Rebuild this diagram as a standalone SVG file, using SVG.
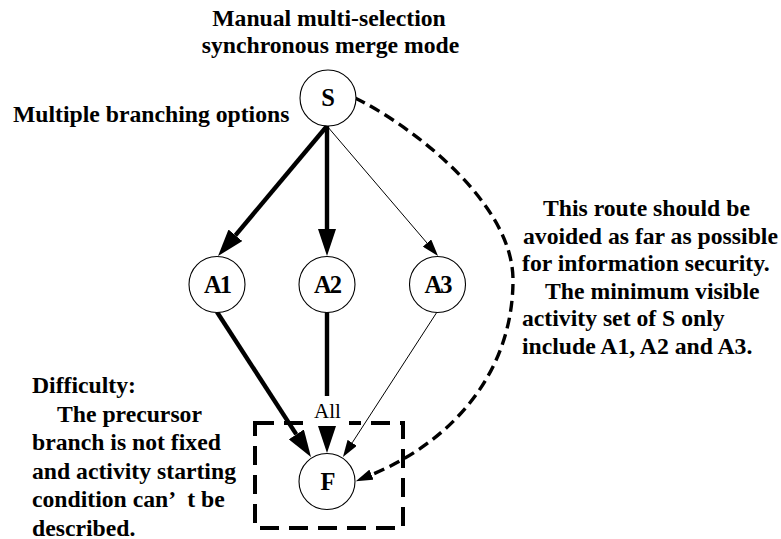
<svg xmlns="http://www.w3.org/2000/svg" width="781" height="539" viewBox="0 0 781 539">
<defs>
<style>
.t{font-family:"Liberation Serif","Times New Roman",serif;font-weight:bold;font-size:23.7px;fill:#000}
.nl{font-family:"Liberation Serif","Times New Roman",serif;font-weight:bold;font-size:24.5px;fill:#000;text-anchor:middle;letter-spacing:-2px}
.node{fill:#fff;stroke:#000;stroke-width:1.1}
.thick{stroke:#000;stroke-width:4.4;fill:none}
.thin{stroke:#000;stroke-width:1;fill:none}
.dash{stroke:#000;stroke-width:3.4;fill:none;stroke-dasharray:11 6}
.box{stroke:#000;stroke-width:4;fill:none;stroke-dasharray:19 10}
</style>
<marker id="big" markerUnits="userSpaceOnUse" markerWidth="27" markerHeight="18" viewBox="0 0 27 18" refX="0" refY="9" orient="auto">
<path d="M0,0 L27,9 L0,18 Z" fill="#000"/>
</marker>
<marker id="small" markerUnits="userSpaceOnUse" markerWidth="17" markerHeight="11" viewBox="0 0 17 11" refX="0" refY="5.5" orient="auto">
<path d="M0,0 L17,5.5 L0,11 Z" fill="#000"/>
</marker>
</defs>
<rect width="781" height="539" fill="#fff"/>

<g id="title">
<text class="t" x="329" y="26" text-anchor="middle">Manual multi-selection</text>
<text class="t" x="330.5" y="53" text-anchor="middle">synchronous merge mode</text>
</g>
<g id="branch-label">
<text class="t" x="13" y="122">Multiple branching options</text>
</g>

<g id="merge-box">
<rect class="box" x="255" y="423" width="148" height="105"/>
</g>

<g id="connectors">
<path class="thick" d="M327,126 L235.4,235.3" marker-end="url(#big)"/>
<path class="thick" d="M327,126 L327,229" marker-end="url(#big)"/>
<path class="thin" d="M327,126 L427,243" marker-end="url(#small)"/>
<path class="thick" d="M217,312 L296.3,434.4" marker-end="url(#big)"/>
<path class="thick" d="M327,312 L327,426" marker-end="url(#big)"/>
<path class="thin" d="M437,312 L352.2,442.8" marker-end="url(#small)"/>
<path class="dash" d="M355,98 C405,122 513,200 513,280 C513,370 455,440 371.5,474.7" marker-end="url(#small)"/>
<g id="all-label">
<rect x="306" y="396" width="43" height="30" fill="#fff"/>
<text x="327.5" y="418" text-anchor="middle" style="font-family:'Liberation Serif','Times New Roman',serif;font-size:21px">All</text>
</g>
</g>

<g id="node-S">
<circle class="node" cx="328" cy="98" r="28"/>
<text class="nl" x="327" y="106">S</text>
</g>
<g id="node-A1">
<circle class="node" cx="217" cy="284.5" r="28"/>
<text class="nl" x="217" y="292.5">A1</text>
</g>
<g id="node-A2">
<circle class="node" cx="327" cy="284.5" r="28"/>
<text class="nl" x="327" y="292.5">A2</text>
</g>
<g id="node-A3">
<circle class="node" cx="437.5" cy="284.5" r="28"/>
<text class="nl" x="437.5" y="292.5">A3</text>
</g>
<g id="node-F">
<circle class="node" cx="327" cy="481.5" r="28"/>
<text class="nl" x="327" y="490">F</text>
</g>

<g id="note-route">
<text class="t" x="543" y="216">This route should be</text>
<text class="t" x="523" y="243.5">avoided as far as possible</text>
<text class="t" x="522" y="271">for information security.</text>
<text class="t" x="545" y="298.5">The minimum visible</text>
<text class="t" x="522" y="326">activity set of S only</text>
<text class="t" x="522" y="353.5">include A1, A2 and A3.</text>
</g>

<g id="note-difficulty">
<text class="t" x="32" y="393">Difficulty:</text>
<text class="t" x="57" y="421.5">The precursor</text>
<text class="t" x="32" y="450">branch is not fixed</text>
<text class="t" x="32" y="478.5">and activity starting</text>
<text class="t" x="32" y="507">condition can’ <tspan dx="7">t be</tspan></text>
<text class="t" x="32" y="535.5">described.</text>
</g>
</svg>
